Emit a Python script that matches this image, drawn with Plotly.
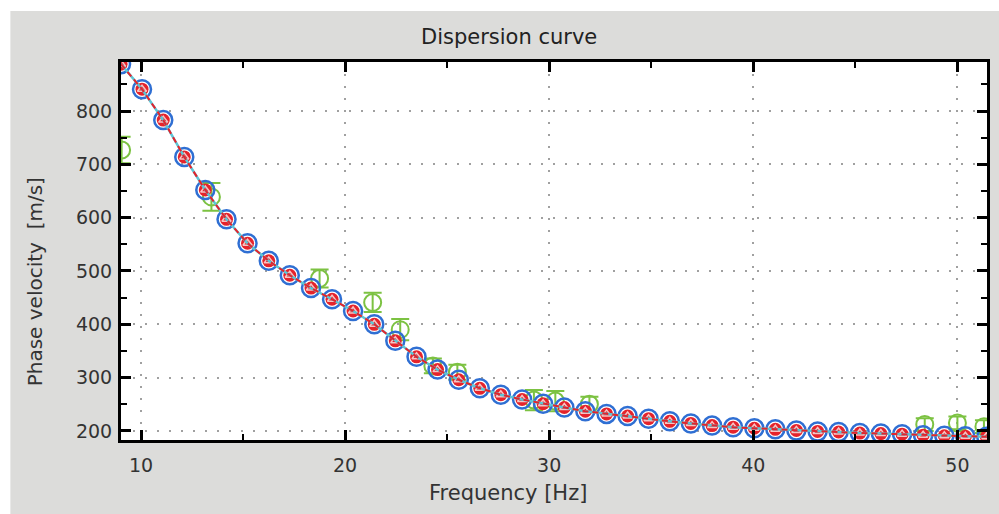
import plotly.graph_objects as go

# ---- data ----
freq = [9.02, 10.05, 11.09, 12.12, 13.15, 14.19, 15.22, 16.26, 17.29, 18.33, 19.36,
        20.39, 21.43, 22.46, 23.50, 24.53, 25.57, 26.60, 27.63, 28.67, 29.70, 30.74,
        31.77, 32.81, 33.84, 34.87, 35.91, 36.94, 37.98, 39.01, 40.05, 41.08, 42.11,
        43.15, 44.18, 45.22, 46.25, 47.29, 48.32, 49.36, 50.39, 51.42]
vel_model = [888, 841, 783, 714, 652, 597, 552, 519, 492, 468, 447,
             425, 400, 369, 339, 315, 296, 280, 268, 259, 251, 244,
             237, 232, 228, 223, 218, 214, 210, 207, 205, 203, 201,
             199, 198, 196, 195, 194, 192, 191, 190, 189]
vel_fit = [888, 841, 783, 714, 652, 597, 552, 519, 492, 468, 447,
           425, 400, 369, 339, 315, 296, 280, 268, 259, 251, 244,
           237, 232, 228, 223, 218, 214, 210, 207, 205, 203, 201,
           199, 198, 196, 195, 194, 192, 191, 190, 189]

obs_freq = [9.05, 13.45, 18.75, 21.35, 22.7, 24.3, 25.5, 29.25, 30.3, 31.97, 48.4, 50.0, 51.3]
obs_vel = [727, 639, 486, 441, 390, 322, 310, 258, 256, 250, 212, 215, 208]
obs_err = [25, 26, 17, 18, 20, 14, 14, 19, 19, 14, 12, 12, 12]

x_ticks = [10, 20, 30, 40, 50]
y_ticks = [200, 300, 400, 500, 600, 700, 800]

BLUE = "#2f6fd3"
RED = "#e5232b"
CYAN = "#5cc6d6"
GREEN = "#7cc242"
FONT = "DejaVu Sans"

fig = go.Figure()

# observed data with error bars
fig.add_trace(go.Scatter(
    x=obs_freq, y=obs_vel, mode="markers",
    marker=dict(symbol="circle-open", size=17, color=GREEN, line=dict(width=2, color=GREEN)),
    error_y=dict(type="data", array=obs_err, visible=True, color=GREEN, thickness=2, width=9),
    showlegend=False,
))
# blue circles
fig.add_trace(go.Scatter(
    x=freq, y=vel_model, mode="markers",
    marker=dict(symbol="circle-open", size=18, color=BLUE, line=dict(width=2.5, color=BLUE)),
    showlegend=False,
))
# red filled markers
fig.add_trace(go.Scatter(
    x=freq, y=vel_fit, mode="markers",
    marker=dict(symbol="circle", size=13, color=RED, line=dict(width=0)),
    showlegend=False,
))
fig.add_trace(go.Scatter(
    x=freq, y=vel_fit, mode="markers",
    marker=dict(symbol="triangle-up-open", size=8, color="#f7c3c3", line=dict(width=1.5, color="#f7c3c3")),
    showlegend=False,
))
# lines
fig.add_trace(go.Scatter(
    x=freq, y=vel_model, mode="lines",
    line=dict(color=CYAN, width=2.5),
    showlegend=False,
))
fig.add_trace(go.Scatter(
    x=freq, y=vel_fit, mode="lines",
    line=dict(color=RED, width=2, dash="6px,4px"),
    showlegend=False,
))

L, R, T, B = 121, 990, 62, 440
W, H = 999, 514
pw, ph = R - L, B - T

def px(x):
    return (x - L) / pw

def py(y):
    return (B - y) / ph

axis_common = dict(
    showline=True, linecolor="black", linewidth=3, mirror="allticks",
    ticks="inside", ticklen=10, tickwidth=3, tickcolor="black",
    showgrid=True, gridcolor="#a0a0a0", gridwidth=2, griddash="2px,10px",
    zeroline=False,
    tickfont=dict(family=FONT, size=19, color="#333333"),
)

fig.update_layout(
    width=W, height=H,
    margin=dict(l=L, r=W - R, t=T, b=H - B, pad=0),
    paper_bgcolor="#dcdcda",
    plot_bgcolor="white",
    xaxis=dict(range=[9.02, 51.45], tickvals=x_ticks, ticklabelstandoff=6,
               minor=dict(dtick=5, ticks="inside", ticklen=6, tickwidth=2, tickcolor="black", showgrid=False),
               **axis_common),
    yaxis=dict(range=[183, 892], tickvals=y_ticks, ticklabelstandoff=2,
               minor=dict(dtick=50, ticks="inside", ticklen=6, tickwidth=2, tickcolor="black", showgrid=False),
               **axis_common),
    shapes=[
        dict(type="rect", xref="paper", yref="paper", x0=px(-5), x1=px(W + 5), y0=py(11), y1=py(-5),
             fillcolor="white", line=dict(width=0), layer="above"),
        dict(type="rect", xref="paper", yref="paper", x0=px(-5), x1=px(10), y0=py(H + 5), y1=py(-5),
             fillcolor="white", line=dict(width=0), layer="above"),
    ],
    annotations=[
        dict(text="Dispersion curve", xref="paper", yref="paper", x=px(510), y=py(37),
             showarrow=False, xanchor="center", yanchor="middle",
             font=dict(family=FONT, size=21, color="#222222")),
        dict(text="Frequency [Hz]", xref="paper", yref="paper", x=px(509), y=py(493),
             showarrow=False, xanchor="center", yanchor="middle",
             font=dict(family=FONT, size=21, color="#333333")),
        dict(text="Phase velocity  [m/s]", xref="paper", yref="paper", x=px(35), y=py(282),
             showarrow=False, xanchor="center", yanchor="middle", textangle=-90,
             font=dict(family=FONT, size=20, color="#333333")),
    ],
)

fig.write_html("out.html")
